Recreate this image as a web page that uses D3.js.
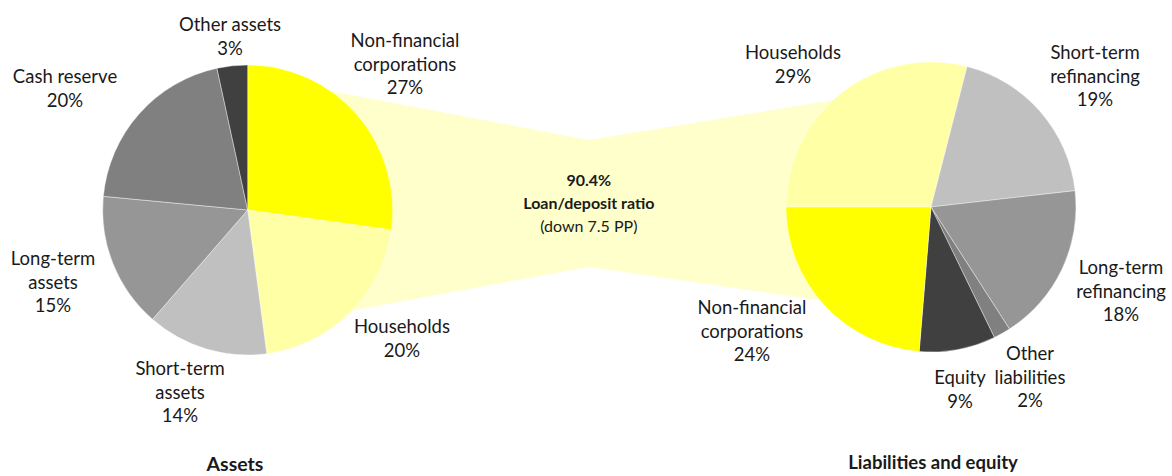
<!DOCTYPE html>
<html>
<head>
<meta charset="utf-8">
<script src="https://cdn.jsdelivr.net/npm/d3@7"></script>
<style>
  html, body { margin: 0; padding: 0; background: #fff; }
  svg { display: block; }
  text { font-family: Lato, "Noto Sans", sans-serif; fill: #1a1a1a; }
</style>
</head>
<body>
<svg id="chart" width="1172" height="476"></svg>
<script>
// ---- Data ----
const assetCategories = ["Non-financial corporations", "Households", "Short-term assets", "Long-term assets", "Cash reserve", "Other assets"];
const assetValues = [27.2, 20.7, 13.5, 15.1, 20.1, 3.4];
const assetLabels = ["27%", "20%", "14%", "15%", "20%", "3%"];

const liabCategories = ["Households", "Short-term refinancing", "Long-term refinancing", "Other liabilities", "Equity", "Non-financial corporations"];
const liabValues = [29.0, 19.2, 17.7, 1.9, 8.5, 23.7];
const liabLabels = ["29%", "19%", "18%", "2%", "9%", "24%"];

const ratioValue = "90.4%";
const ratioTitle = "Loan/deposit ratio";
const ratioNote = "(down 7.5 PP)";
const titles = ["Assets", "Liabilities and equity"];

// ---- Styles / layout ----
const assetColors = ["#FFFF00", "#FFFFA6", "#C0C0C0", "#969696", "#808080", "#404040"];
const liabColors  = ["#FFFFA6", "#C0C0C0", "#969696", "#808080", "#404040", "#FFFF00"];
const R = 145;
const leftC = [247.7, 210];
const rightC = [931, 207];

// label layout: line texts and anchor positions (x center, first line y)
const assetLabelPos = [
  {lines: ["Non-financial", "corporations"], x: 405, y: 47},
  {lines: ["Households"], x: 402, y: 333},
  {lines: ["Short-term", "assets"], x: 180, y: 375},
  {lines: ["Long-term", "assets"], x: 53, y: 265},
  {lines: ["Cash reserve"], x: 65, y: 83},
  {lines: ["Other assets"], x: 230, y: 31}
];
const liabLabelPos = [
  {lines: ["Households"], x: 793, y: 59},
  {lines: ["Short-term", "refinancing"], x: 1095, y: 59},
  {lines: ["Long-term", "refinancing"], x: 1121, y: 274},
  {lines: ["Other", "liabilities"], x: 1030, y: 360},
  {lines: ["Equity"], x: 960, y: 384},
  {lines: ["Non-financial", "corporations"], x: 752, y: 314}
];

const svg = d3.select("#chart");
const toRad = d => d * Math.PI / 180;
const onCircle = (c, deg) => [c[0] + R * Math.sin(toRad(deg)), c[1] - R * Math.cos(toRad(deg))];

// ---- Connector (behind pies) ----
const neckX = (leftC[0] + rightC[0]) / 2 - 0.5;
const neck = [140, 267];
const connector = [
  leftC,
  onCircle(leftC, 34.8),
  [neckX, neck[0]],
  onCircle(rightC, -42.5),
  rightC,
  onCircle(rightC, 230),
  [neckX, neck[1]],
  onCircle(leftC, 133.9)
];
svg.append("path")
  .attr("d", d3.line()(connector) + "Z")
  .attr("fill", "#FFFFCC");

// ---- Pies ----
function drawPie(center, values, colors, startDeg) {
  const pie = d3.pie().sort(null).value(d => d)
    .startAngle(toRad(startDeg)).endAngle(toRad(startDeg + 360));
  const arc = d3.arc().innerRadius(0).outerRadius(R);
  const g = svg.append("g").attr("transform", `translate(${center[0]},${center[1]})`);
  g.selectAll("path").data(pie(values)).join("path")
    .attr("d", arc)
    .attr("fill", (d, i) => colors[i])
    .attr("stroke", "#ffffff")
    .attr("stroke-width", 0.4);
}
drawPie(leftC, assetValues, assetColors, 0);
drawPie(rightC, liabValues, liabColors, -90);

// ---- Labels ----
const lineH = 23.5;
function drawLabels(pos, pcts) {
  pos.forEach((p, i) => {
    const t = svg.append("text")
      .attr("x", p.x).attr("y", p.y)
      .attr("text-anchor", "middle")
      .attr("font-size", 18.5);
    p.lines.concat([pcts[i]]).forEach((ln, k) => {
      t.append("tspan").attr("x", p.x).attr("dy", k === 0 ? 0 : lineH).text(ln);
    });
  });
}
drawLabels(assetLabelPos, assetLabels);
drawLabels(liabLabelPos, liabLabels);

// ---- Center ratio text ----
const mid = svg.append("text").attr("text-anchor", "middle").attr("font-size", 16);
mid.append("tspan").attr("x", neckX).attr("y", 186).attr("font-weight", "bold").text(ratioValue);
mid.append("tspan").attr("x", neckX).attr("dy", 23).attr("font-weight", "bold").text(ratioTitle);
mid.append("tspan").attr("x", neckX).attr("dy", 23).text(ratioNote);

// ---- Titles ----
svg.append("text").attr("x", 235).attr("y", 471).attr("text-anchor", "middle")
  .attr("font-size", 19.5).attr("font-weight", "bold").text(titles[0]);
svg.append("text").attr("x", 933).attr("y", 469).attr("text-anchor", "middle")
  .attr("font-size", 18.5).attr("font-weight", "bold").text(titles[1]);
</script>
</body>
</html>
